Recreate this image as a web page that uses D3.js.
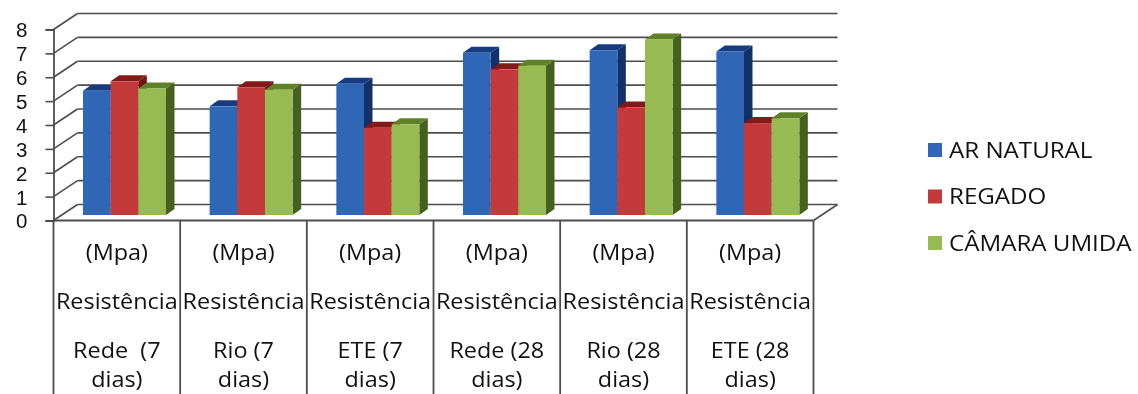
<!DOCTYPE html>
<html>
<head>
<meta charset="utf-8">
<script src="https://cdnjs.cloudflare.com/ajax/libs/d3/7.8.5/d3.min.js"></script>
<style>
  html, body { margin: 0; padding: 0; background: #fff; overflow: hidden; }
  svg { display: block; filter: blur(0.4px); }
  text { font-family: "Open Sans", sans-serif; fill: #111; white-space: pre; }
</style>
</head>
<body>
<div id="chart"></div>
<script>
// data
var categories = ["Rede 7", "Rio 7", "ETE 7", "Rede 28", "Rio 28", "ETE 28"];
var seriesNames = ["AR NATURAL", "REGADO", "CÂMARA UMIDA"];
var arNatural = [5.2, 4.55, 5.5, 6.8, 6.9, 6.85];
var regado = [5.6, 5.35, 3.65, 6.1, 4.5, 3.85];
var camaraUmida = [5.3, 5.25, 3.8, 6.25, 7.35, 4.05];
var seriesValues = [arNatural, regado, camaraUmida];
var yTicks = [0, 1, 2, 3, 4, 5, 6, 7, 8];
var tableRow1 = ["(Mpa)", "(Mpa)", "(Mpa)", "(Mpa)", "(Mpa)", "(Mpa)"];
var tableRow2 = ["Resistência", "Resistência", "Resistência", "Resistência", "Resistência", "Resistência"];
var tableRow3 = [["Rede  (7", "dias)"], ["Rio (7", "dias)"], ["ETE (7", "dias)"], ["Rede (28", "dias)"], ["Rio (28", "dias)"], ["ETE (28", "dias)"]];

var colors = ["#2f66b6", "#c43a3a", "#95bb52"];
var sideColors = ["#12306a", "#741313", "#46601f"];
var topColors = ["#153c80", "#851818", "#5f8228"];
var gridColor = "#4d4d4d";

// fake 3d offsets
var wallDx = 24, wallDy = -16;
var barDx = 8.5, barDy = -6, floorDy = -5.5;
// the text in the picture is stretched sideways
var textStretch = 1.09, legendStretch = 1.15;

var svg = d3.select("#chart").append("svg")
  .attr("width", 1138)
  .attr("height", 394);

var x = d3.scaleBand().domain(categories).range([53.5, 813.5]);
var xBar = d3.scaleBand().domain(seriesNames).range([29.5, 112.5]);
var y = d3.scaleLinear().domain([0, 8]).range([220.5, 29.5]);

// back wall gridlines plus the slanted bits on the left wall
var grid = svg.append("g")
  .attr("stroke", gridColor)
  .attr("stroke-width", 1.6)
  .attr("fill", "none");

grid.selectAll(".back")
  .data(yTicks)
  .enter()
  .append("line")
  .attr("x1", x.range()[0] + wallDx)
  .attr("x2", x.range()[1] + wallDx)
  .attr("y1", d => y(d) + wallDy)
  .attr("y2", d => y(d) + wallDy);

grid.selectAll(".slant")
  .data(yTicks)
  .enter()
  .append("line")
  .attr("x1", x.range()[0])
  .attr("x2", x.range()[0] + wallDx)
  .attr("y1", d => y(d))
  .attr("y2", d => y(d) + wallDy);

// floor edge on the right
grid.append("line")
  .attr("x1", x.range()[1])
  .attr("x2", x.range()[1] + wallDx)
  .attr("y1", y(0))
  .attr("y2", y(0) + wallDy);

// bars, one group per category
seriesNames.forEach(function(name, s) {
  var bars = svg.append("g").selectAll("g")
    .data(seriesValues[s])
    .enter()
    .append("g")
    .attr("transform", (d, i) => "translate(" + (x(categories[i]) + xBar(name)) + "," + floorDy + ")");

  var w = xBar.bandwidth();

  bars.append("path")
    .attr("fill", sideColors[s])
    .attr("d", d => "M" + w + "," + y(d) + "l" + barDx + "," + barDy + "V" + (y(0) + barDy) + "l" + (-barDx) + "," + (-barDy) + "Z");

  bars.append("path")
    .attr("fill", topColors[s])
    .attr("d", d => "M0," + y(d) + "l" + barDx + "," + barDy + "h" + w + "l" + (-barDx) + "," + (-barDy) + "Z");

  bars.append("rect")
    .attr("x", 0)
    .attr("y", d => y(d))
    .attr("width", w)
    .attr("height", d => y(0) - y(d))
    .attr("fill", colors[s]);
});

// Y axis
var yAxis = svg.append("g")
  .attr("transform", "translate(" + x.range()[0] + ",0)")
  .call(d3.axisLeft(y).tickValues(yTicks).tickSize(8).tickPadding(18));
yAxis.select(".domain").attr("stroke", gridColor).attr("stroke-width", 1.8);
yAxis.selectAll("line").attr("stroke", gridColor).attr("stroke-width", 1.6);
yAxis.selectAll("text")
  .attr("dy", "0.36em")
  .style("font-size", "20.5px")
  .style("font-family", "Liberation Sans");

// data table under the chart
var table = svg.append("g");
table.append("line")
  .attr("x1", x.range()[0])
  .attr("x2", x.range()[1])
  .attr("y1", y(0))
  .attr("y2", y(0))
  .attr("stroke", gridColor)
  .attr("stroke-width", 1.8);

var seps = d3.range(categories.length + 1).map(i => i * x.step() + x.range()[0]);
table.selectAll(".sep")
  .data(seps)
  .enter()
  .append("line")
  .attr("x1", d => d)
  .attr("x2", d => d)
  .attr("y1", y(0))
  .attr("y2", 394)
  .attr("stroke", gridColor)
  .attr("stroke-width", 1.8);

var cell = table.selectAll(".cell")
  .data(categories)
  .enter()
  .append("g")
  .attr("transform", d => "translate(" + (x(d) + x.bandwidth() / 2) + ",0) scale(" + textStretch + ",1)")
  .attr("text-anchor", "middle")
  .style("font-size", "21.5px");

cell.append("text").attr("y", 260).text((d, i) => tableRow1[i]);
cell.append("text").attr("y", 309).text((d, i) => tableRow2[i]);
cell.append("text").attr("y", 358).text((d, i) => tableRow3[i][0]);
cell.append("text").attr("y", 387.5).text((d, i) => tableRow3[i][1]);

// legend
var legendY = d3.scalePoint().domain(seriesNames).range([150, 243]);
var legend = svg.selectAll(".legend")
  .data(seriesNames)
  .enter()
  .append("g")
  .attr("transform", d => "translate(928," + legendY(d) + ")");
legend.append("rect")
  .attr("y", -7)
  .attr("width", 14)
  .attr("height", 14)
  .attr("fill", (d, i) => colors[i]);
legend.append("text")
  .attr("transform", "translate(21,7.5) scale(" + legendStretch + ",1)")
  .style("font-size", "21px")
  .text(d => d);
</script>
</body>
</html>
